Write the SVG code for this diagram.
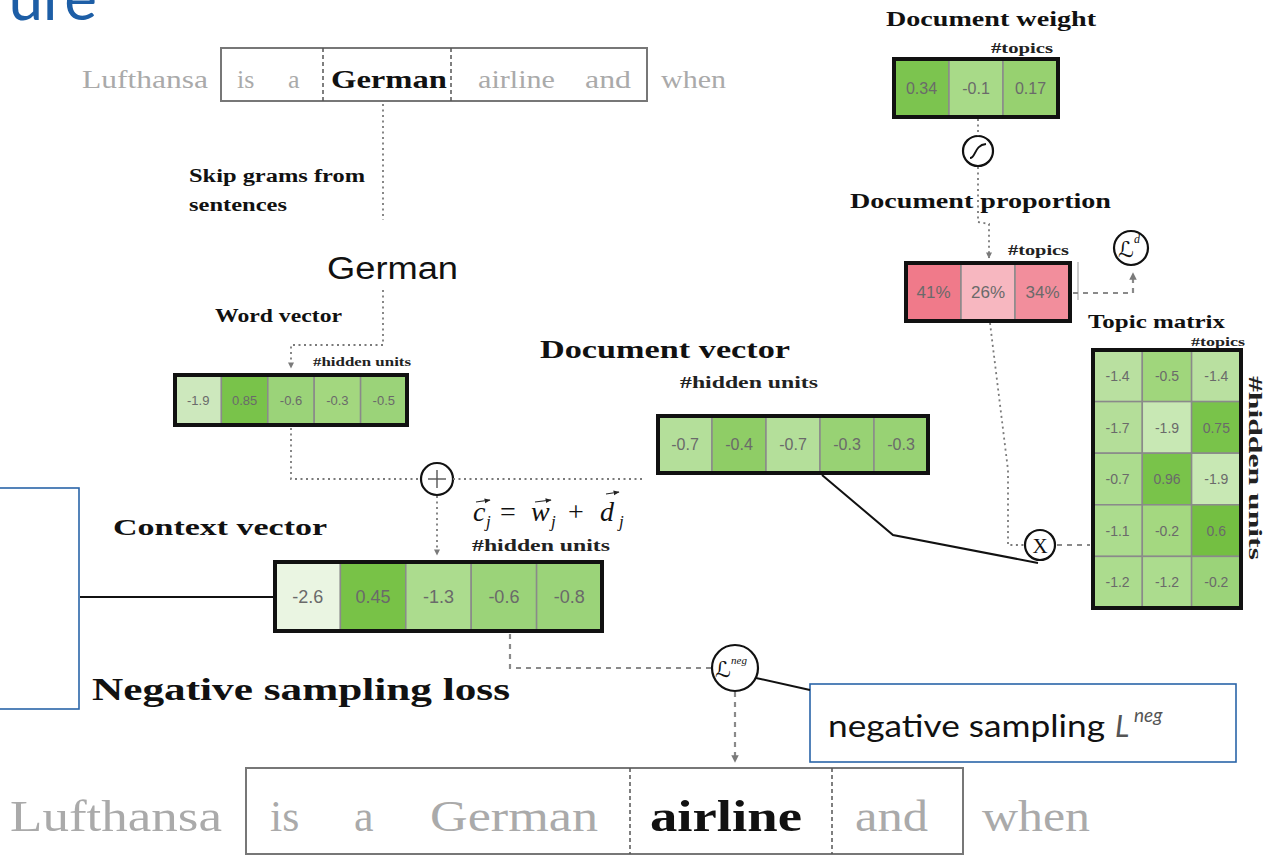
<svg xmlns="http://www.w3.org/2000/svg" width="1263" height="856" viewBox="0 0 1263 856">
  <defs>
    <style>
      .serif { font-family: "Liberation Serif", "DejaVu Serif", serif; }
      .lbl { font-family: "Liberation Serif", "DejaVu Serif", serif; font-weight: bold; fill: #111; }
      .unit { font-family: "Liberation Serif", "DejaVu Serif", serif; font-weight: bold; fill: #222; }
      .word { font-family: "Liberation Serif", "DejaVu Serif", serif; fill: #aaaaaa; }
      .num { font-family: "Liberation Sans", Arial, sans-serif; fill: #6a6a6a; text-anchor: middle; }
      .script { font-family: "DejaVu Serif", "DejaVu Sans", serif; font-style: italic; fill: #111; }
      .cell { stroke: #8a8a8a; stroke-width: 1.5; }
      .frame { fill: none; stroke: #111; stroke-width: 4; }
      .dot { fill: none; stroke: #7a7a7a; stroke-width: 1.8; stroke-dasharray: 2 3.5; }
      .dash { fill: none; stroke: #8a8a8a; stroke-width: 2.2; stroke-dasharray: 5 5; }
      .solid { fill: none; stroke: #111; stroke-width: 2; }
      .op { fill: #fff; stroke: #111; stroke-width: 2.2; }
      .callout { fill: #fff; stroke: #2a64a8; stroke-width: 1.6; }
      .sent { fill: none; stroke: #777; stroke-width: 2; }
      .sentdiv { stroke: #555; stroke-width: 1.5; stroke-dasharray: 4 3; }
      .vec { stroke: #222; stroke-width: 1.2; }
    </style>
    <marker id="tri" viewBox="0 0 10 10" refX="9" refY="5" markerWidth="3.4" markerHeight="3.4" orient="auto">
      <path d="M0,0 L10,5 L0,10 z" fill="#7a7a7a"/>
    </marker>
    <marker id="vhead" viewBox="0 0 10 10" refX="9" refY="5" markerWidth="6" markerHeight="6" orient="auto" markerUnits="userSpaceOnUse">
      <path d="M0,1 L10,5 L0,9 z" fill="#222"/>
    </marker>
  </defs>

  <rect width="1263" height="856" fill="#fff"/>

  <!-- slide title tail -->
  <text x="97" y="20" font-family="Lato, 'Open Sans', sans-serif" font-size="62" fill="#1d5ea6" text-anchor="end">ure</text>

  <!-- input sentence -->
  <g id="sentence-top">
    <rect class="sent" x="221" y="48" width="426" height="53"/>
    <line class="sentdiv" x1="323" y1="48" x2="323" y2="101"/>
    <line class="sentdiv" x1="451" y1="48" x2="451" y2="101"/>
    <text class="word" x="82" y="88" font-size="26" textLength="126" lengthAdjust="spacingAndGlyphs">Lufthansa</text>
    <text class="word" x="237" y="88" font-size="26">is</text>
    <text class="word" x="288" y="88" font-size="26">a</text>
    <text class="serif" x="331" y="88" font-size="26" font-weight="bold" fill="#111" textLength="116" lengthAdjust="spacingAndGlyphs">German</text>
    <text class="word" x="478" y="88" font-size="26" textLength="77" lengthAdjust="spacingAndGlyphs">airline</text>
    <text class="word" x="585" y="88" font-size="26" textLength="46" lengthAdjust="spacingAndGlyphs">and</text>
    <text class="word" x="661" y="88" font-size="26" textLength="65" lengthAdjust="spacingAndGlyphs">when</text>
  </g>

  <g id="skipgram-label">
    <text class="lbl" x="189" y="182" font-size="18" textLength="176" lengthAdjust="spacingAndGlyphs">Skip grams from</text>
    <text class="lbl" x="189" y="211" font-size="18" textLength="98" lengthAdjust="spacingAndGlyphs">sentences</text>
  </g>

  <g id="target-word">
    <text x="327" y="279" font-family="'Liberation Sans', Arial, sans-serif" font-size="31" fill="#111" textLength="131" lengthAdjust="spacingAndGlyphs">German</text>
  </g>

  <!-- word vector -->
  <g id="word-vector">
    <text class="lbl" x="215" y="322" font-size="18" textLength="127" lengthAdjust="spacingAndGlyphs">Word vector</text>
    <text class="unit" x="313" y="366" font-size="12.5" textLength="98" lengthAdjust="spacingAndGlyphs">#hidden units</text>
    <rect class="cell" x="175" y="375" width="46.4" height="50" fill="#cde8bd"/>
    <rect class="cell" x="221.4" y="375" width="46.4" height="50" fill="#79c34a"/>
    <rect class="cell" x="267.8" y="375" width="46.4" height="50" fill="#9bd379"/>
    <rect class="cell" x="314.2" y="375" width="46.4" height="50" fill="#a3d77f"/>
    <rect class="cell" x="360.6" y="375" width="46.4" height="50" fill="#9bd379"/>
    <rect class="frame" x="175" y="375" width="232" height="50"/>
    <g class="num" font-size="13">
      <text x="198.2" y="405">-1.9</text>
      <text x="244.6" y="405">0.85</text>
      <text x="291" y="405">-0.6</text>
      <text x="337.4" y="405">-0.3</text>
      <text x="383.8" y="405">-0.5</text>
    </g>
  </g>

  <!-- document vector -->
  <g id="document-vector">
    <text class="lbl" x="540" y="358" font-size="26" textLength="250" lengthAdjust="spacingAndGlyphs">Document vector</text>
    <text class="unit" x="680" y="388" font-size="17" textLength="138" lengthAdjust="spacingAndGlyphs">#hidden units</text>
    <rect class="cell" x="658" y="416" width="54" height="57" fill="#b4df9a"/>
    <rect class="cell" x="712" y="416" width="54" height="57" fill="#8fcd66"/>
    <rect class="cell" x="766" y="416" width="54" height="57" fill="#b4df9a"/>
    <rect class="cell" x="820" y="416" width="54" height="57" fill="#98d274"/>
    <rect class="cell" x="874" y="416" width="54" height="57" fill="#98d274"/>
    <rect class="frame" x="658" y="416" width="270" height="57"/>
    <g class="num" font-size="16">
      <text x="685" y="450">-0.7</text>
      <text x="739" y="450">-0.4</text>
      <text x="793" y="450">-0.7</text>
      <text x="847" y="450">-0.3</text>
      <text x="901" y="450">-0.3</text>
    </g>
  </g>

  <!-- context vector -->
  <g id="context-vector">
    <text class="lbl" x="113" y="535" font-size="23" textLength="214" lengthAdjust="spacingAndGlyphs">Context vector</text>
    <text class="unit" x="472" y="551" font-size="16.5" textLength="138" lengthAdjust="spacingAndGlyphs">#hidden units</text>
    <rect class="cell" x="275" y="562" width="65.4" height="69" fill="#eaf5e2"/>
    <rect class="cell" x="340.4" y="562" width="65.4" height="69" fill="#78c247"/>
    <rect class="cell" x="405.8" y="562" width="65.4" height="69" fill="#acdc8e"/>
    <rect class="cell" x="471.2" y="562" width="65.4" height="69" fill="#9bd379"/>
    <rect class="cell" x="536.6" y="562" width="65.4" height="69" fill="#9bd379"/>
    <rect class="frame" x="275" y="562" width="327" height="69"/>
    <g class="num" font-size="18">
      <text x="307.7" y="603">-2.6</text>
      <text x="373.1" y="603">0.45</text>
      <text x="438.5" y="603">-1.3</text>
      <text x="503.9" y="603">-0.6</text>
      <text x="569.3" y="603">-0.8</text>
    </g>
  </g>

  <!-- context equation -->
  <g id="equation" class="serif" font-style="italic" fill="#111">
    <text x="473" y="521" font-size="28">c</text>
    <text x="486" y="527" font-size="17">j</text>
    <text x="500" y="521" font-size="28" font-style="normal">=</text>
    <text x="531" y="521" font-size="28">w</text>
    <text x="551" y="527" font-size="17">j</text>
    <text x="568" y="521" font-size="28" font-style="normal">+</text>
    <text x="600" y="521" font-size="28">d</text>
    <text x="619" y="527" font-size="17">j</text>
    <line class="vec" x1="476" y1="502" x2="490" y2="500" marker-end="url(#vhead)"/>
    <line class="vec" x1="535" y1="502" x2="551" y2="500" marker-end="url(#vhead)"/>
    <line class="vec" x1="606" y1="494" x2="619" y2="492" marker-end="url(#vhead)"/>
  </g>

  <!-- document weight -->
  <g id="document-weight">
    <text class="lbl" x="886" y="26" font-size="22" textLength="210" lengthAdjust="spacingAndGlyphs">Document weight</text>
    <text class="unit" x="991" y="53" font-size="14" textLength="62" lengthAdjust="spacingAndGlyphs">#topics</text>
    <rect class="cell" x="894" y="59" width="55" height="58" fill="#7cc44f"/>
    <rect class="cell" x="949" y="59" width="54" height="58" fill="#a8da88"/>
    <rect class="cell" x="1003" y="59" width="55" height="58" fill="#97d170"/>
    <rect class="frame" x="894" y="59" width="164" height="58"/>
    <g class="num" font-size="16">
      <text x="921.5" y="94">0.34</text>
      <text x="976" y="94">-0.1</text>
      <text x="1030.5" y="94">0.17</text>
    </g>
  </g>

  <g id="sigmoid">
    <circle class="op" cx="978" cy="151" r="15"/>
    <path d="M970,158 C976,158 974,145 986,144" fill="none" stroke="#111" stroke-width="1.8"/>
  </g>

  <!-- document proportion -->
  <g id="document-proportion">
    <text class="lbl" x="850" y="208" font-size="22" textLength="261" lengthAdjust="spacingAndGlyphs">Document proportion</text>
    <text class="unit" x="1008" y="255" font-size="14" textLength="61" lengthAdjust="spacingAndGlyphs">#topics</text>
    <rect class="cell" x="906" y="263" width="55" height="58" fill="#f07a8a"/>
    <rect class="cell" x="961" y="263" width="54" height="58" fill="#f7b7c0"/>
    <rect class="cell" x="1015" y="263" width="55" height="58" fill="#f28e9c"/>
    <rect class="frame" x="906" y="263" width="164" height="58"/>
    <g class="num" font-size="17" fill="#7a6a6c">
      <text x="933.5" y="298">41%</text>
      <text x="988" y="298">26%</text>
      <text x="1042.5" y="298">34%</text>
    </g>
    <line x1="1078" y1="262" x2="1078" y2="300" stroke="#999" stroke-width="1"/>
  </g>

  <g id="doc-loss">
    <circle class="op" cx="1131" cy="248" r="17"/>
    <text x="1118" y="257" class="script" font-size="22">ℒ</text>
    <text x="1134" y="243" class="serif" font-style="italic" font-size="12" fill="#111">d</text>
  </g>

  <!-- topic matrix -->
  <g id="topic-matrix">
    <text class="lbl" x="1088" y="328" font-size="19" textLength="137" lengthAdjust="spacingAndGlyphs">Topic matrix</text>
    <text class="unit" x="1191" y="346" font-size="12.5" textLength="54" lengthAdjust="spacingAndGlyphs">#topics</text>
    <text class="unit" x="1249" y="376" font-size="18" transform="rotate(90 1249 376)" textLength="184" lengthAdjust="spacingAndGlyphs">#hidden units</text>
    <rect class="cell" x="1093" y="350" width="49.3" height="51.6" fill="#b9e0a0"/>
    <rect class="cell" x="1142.3" y="350" width="49.3" height="51.6" fill="#a0d67c"/>
    <rect class="cell" x="1191.6" y="350" width="49.4" height="51.6" fill="#b9e0a0"/>
    <rect class="cell" x="1093" y="401.6" width="49.3" height="51.6" fill="#b4de99"/>
    <rect class="cell" x="1142.3" y="401.6" width="49.3" height="51.6" fill="#c8e8b4"/>
    <rect class="cell" x="1191.6" y="401.6" width="49.4" height="51.6" fill="#79c34a"/>
    <rect class="cell" x="1093" y="453.2" width="49.3" height="51.6" fill="#acdc8e"/>
    <rect class="cell" x="1142.3" y="453.2" width="49.3" height="51.6" fill="#79c34a"/>
    <rect class="cell" x="1191.6" y="453.2" width="49.4" height="51.6" fill="#c8e8b4"/>
    <rect class="cell" x="1093" y="504.8" width="49.3" height="51.6" fill="#acdc8e"/>
    <rect class="cell" x="1142.3" y="504.8" width="49.3" height="51.6" fill="#a4d880"/>
    <rect class="cell" x="1191.6" y="504.8" width="49.4" height="51.6" fill="#74bf42"/>
    <rect class="cell" x="1093" y="556.4" width="49.3" height="51.6" fill="#acdc8e"/>
    <rect class="cell" x="1142.3" y="556.4" width="49.3" height="51.6" fill="#acdc8e"/>
    <rect class="cell" x="1191.6" y="556.4" width="49.4" height="51.6" fill="#9bd379"/>
    <rect class="frame" x="1093" y="350" width="148" height="258"/>
    <g class="num" font-size="14">
      <text x="1117.6" y="381">-1.4</text>
      <text x="1167" y="381">-0.5</text>
      <text x="1216.3" y="381">-1.4</text>
      <text x="1117.6" y="432.5">-1.7</text>
      <text x="1167" y="432.5">-1.9</text>
      <text x="1216.3" y="432.5">0.75</text>
      <text x="1117.6" y="484">-0.7</text>
      <text x="1167" y="484">0.96</text>
      <text x="1216.3" y="484">-1.9</text>
      <text x="1117.6" y="535.5">-1.1</text>
      <text x="1167" y="535.5">-0.2</text>
      <text x="1216.3" y="535.5">0.6</text>
      <text x="1117.6" y="587">-1.2</text>
      <text x="1167" y="587">-1.2</text>
      <text x="1216.3" y="587">-0.2</text>
    </g>
  </g>

  <!-- operators -->
  <g id="add-op">
    <circle class="op" cx="437" cy="479" r="16"/>
    <line x1="428" y1="479" x2="446" y2="479" stroke="#555" stroke-width="1.4"/>
    <line x1="437" y1="470" x2="437" y2="488" stroke="#555" stroke-width="1.4"/>
  </g>

  <g id="multiply-op">
    <circle class="op" cx="1040" cy="545" r="15"/>
    <text x="1040" y="553" class="serif" font-size="21" text-anchor="middle" fill="#111">X</text>
  </g>

  <g id="neg-loss">
    <circle class="op" cx="735" cy="668" r="23"/>
    <text x="715" y="677" class="script" font-size="22">ℒ</text>
    <text x="731" y="664" class="serif" font-style="italic" font-size="11" fill="#111">neg</text>
  </g>

  <!-- labels / callouts -->
  <g id="neg-loss-label">
    <text class="lbl" x="92" y="700" font-size="31" textLength="418" lengthAdjust="spacingAndGlyphs">Negative sampling loss</text>
  </g>

  <g id="callout-left">
    <rect class="callout" x="-2" y="488" width="81" height="221"/>
  </g>

  <g id="callout-right">
    <rect class="callout" x="810" y="684" width="426" height="78"/>
    <text x="828" y="737" font-family="Lato, 'Open Sans', sans-serif" font-size="30" fill="#111" textLength="277" lengthAdjust="spacingAndGlyphs">negative sampling</text>
    <text x="1115" y="737" font-family="Lato, 'Open Sans', sans-serif" font-style="italic" font-size="30" fill="#555">L</text>
    <text x="1134" y="722" font-family="Lato, 'Open Sans', sans-serif" font-style="italic" font-size="19" fill="#555">neg</text>
  </g>

  <!-- output sentence -->
  <g id="sentence-bottom">
    <rect class="sent" x="246" y="768" width="717" height="86"/>
    <line class="sentdiv" x1="630" y1="768" x2="630" y2="854"/>
    <line class="sentdiv" x1="832" y1="768" x2="832" y2="854"/>
    <text class="word" x="10" y="831" font-size="44" textLength="212" lengthAdjust="spacingAndGlyphs">Lufthansa</text>
    <text class="word" x="270" y="831" font-size="44">is</text>
    <text class="word" x="354" y="831" font-size="44">a</text>
    <text class="word" x="430" y="831" font-size="44" textLength="168" lengthAdjust="spacingAndGlyphs">German</text>
    <text class="serif" x="650" y="831" font-size="44" font-weight="bold" fill="#111" textLength="152" lengthAdjust="spacingAndGlyphs">airline</text>
    <text class="word" x="855" y="831" font-size="44" textLength="73" lengthAdjust="spacingAndGlyphs">and</text>
    <text class="word" x="982" y="831" font-size="44" textLength="108" lengthAdjust="spacingAndGlyphs">when</text>
  </g>

  <!-- connectors -->
  <g id="connectors">
    <path class="dot" d="M383,104 L383,220"/>
    <path class="dot" d="M383,290 L383,345 L291,345 L291,368" marker-end="url(#tri)"/>
    <path class="dot" d="M291,428 L291,479 L421,479"/>
    <path class="dot" d="M453,479 L642,479"/>
    <path class="dot" d="M437,496 L437,555" marker-end="url(#tri)"/>
    <path class="dot" d="M978,119 L978,136"/>
    <path class="dot" d="M978,167 L978,222 L989,224 L989,258" marker-end="url(#tri)"/>
    <path class="dot" d="M990,323 L1008,470 L1008,545 L1025,545"/>
    <path class="dash" d="M1057,545 L1090,545"/>
    <path class="dash" d="M1073,293 L1133,293 L1133,273" marker-end="url(#tri)"/>
    <path class="dash" d="M510,634 L510,668 L712,668"/>
    <path class="dash" d="M735,692 L735,762" marker-end="url(#tri)"/>
    <path class="solid" d="M275,597 L80,597"/>
    <path class="solid" d="M822,475 L893,535 L1038,563" stroke-width="3"/>
    <path class="solid" d="M756,678 L810,690" stroke-width="2.4"/>
  </g>
</svg>
